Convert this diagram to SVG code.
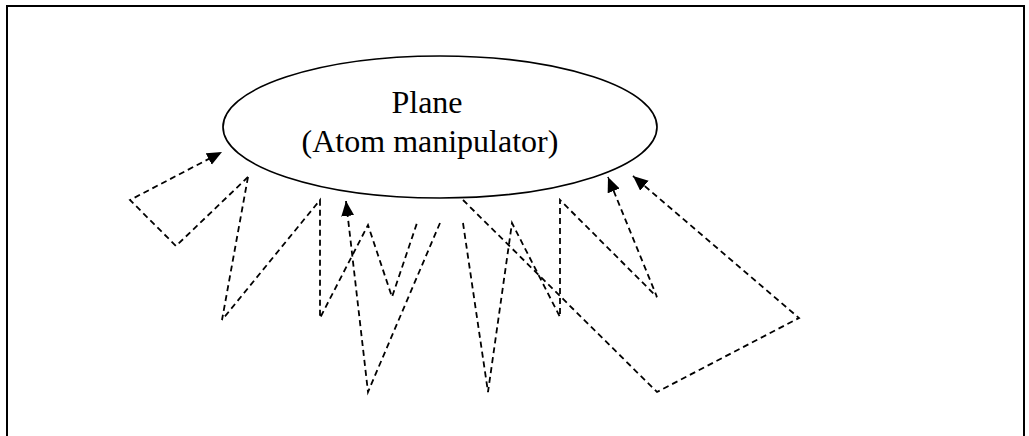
<svg xmlns="http://www.w3.org/2000/svg" width="1029" height="436" viewBox="0 0 1029 436">
<style>
.frame{fill:none;stroke:#000;stroke-width:2}
.node{fill:#fff;stroke:#000;stroke-width:1.7}
.lbl{font-family:"Liberation Serif","Times New Roman",serif;font-size:32px;fill:#000;text-anchor:middle}
.dash{fill:none;stroke:#000;stroke-width:1.8;stroke-dasharray:6,4;stroke-linejoin:miter}
</style>
<defs>
<marker id="arr" markerUnits="userSpaceOnUse" markerWidth="16" markerHeight="14" refX="15" refY="6.5" orient="auto" viewBox="0 0 16 14">
<path d="M0,0 L15,6.5 L0,13 z" fill="#000"/>
</marker>
</defs>
<rect width="1029" height="436" fill="#fff"/>
<path class="frame" d="M7,436 L7,6 L1024,6 L1024,436"/>
<g id="plane">
<ellipse class="node" cx="440" cy="127" rx="217" ry="71"/>
<text class="lbl" x="427" y="113">Plane</text>
<text class="lbl" x="430" y="152">(Atom manipulator)</text>
</g>
<g id="connectors">
<path class="dash" d="M248,177 L176,246 L130,200 L222,152" marker-end="url(#arr)"/>
<path class="dash" d="M248,177 L222,320 L320,200 L320,318 L368,225 L392,297 L417,223"/>
<path class="dash" d="M440,223 L368,392 L346,201" marker-end="url(#arr)"/>
<path class="dash" d="M463,223 L488,392 L512,223 L560,317 L560,200 L657,297 L608,177" marker-end="url(#arr)"/>
<path class="dash" d="M463,200 L657,392 L799,318 L633,176" marker-end="url(#arr)"/>
</g>
</svg>
